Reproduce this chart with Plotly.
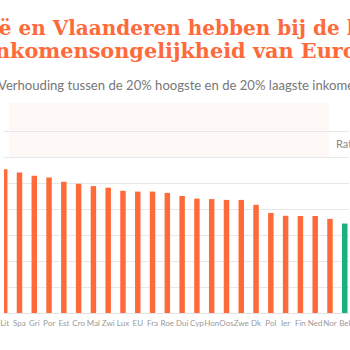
import plotly.graph_objects as go

# ---- data ----
categories = ["Lit", "Spa", "Gri", "Por", "Est", "Cro", "Mal", "Zwi", "Lux", "EU", "Fra", "Roe",
              "Dui", "Cyp", "Hon", "Oos", "Zwe", "Dk", "Pol", "Ier", "Fin", "Ned", "Nor", "Bel"]
values = [5.53, 5.40, 5.28, 5.21, 5.05, 4.97, 4.88, 4.82, 4.70, 4.67, 4.67, 4.62,
          4.50, 4.40, 4.38, 4.35, 4.35, 4.16, 3.85, 3.74, 3.73, 3.73, 3.62, 3.44]
highlight = ["Bel"]

title_line1 = "België en Vlaanderen hebben bij de laagste"
title_line2 = "inkomensongelijkheid van Europa"
subtitle = "Verhouding tussen de 20% hoogste en de 20% laagste inkomens"
axis_note = "Ratio"

# ---- style ----
W, H = 350, 350
TOP, BOT = 105, 313
ORANGE = "#ff6a3a"
GREEN = "#17b07e"

colors = [GREEN if c in highlight else ORANGE for c in categories]


def py(p):
    """pixel y -> paper y (plot area based)"""
    return (BOT - p) / (BOT - TOP)


def px(p):
    return p / W


fig = go.Figure(go.Bar(
    x=categories, y=values, marker_color=colors, width=0.37,
    marker_line_width=0, hoverinfo="skip"))

x0 = -0.7 / 15
fig.update_layout(
    width=W, height=H,
    margin=dict(l=0, r=0, t=TOP, b=H - BOT, pad=0),
    paper_bgcolor="white", plot_bgcolor="white",
    showlegend=False,
    xaxis=dict(range=[x0, x0 + W / 15], showgrid=False, zeroline=False,
               showline=False, ticks="", tickangle=0, ticklabelstandoff=4,
               tickfont=dict(family="Lato", size=8, color="#9a9a9a")),
    yaxis=dict(range=[0, 8], dtick=1, showgrid=True, gridcolor="#e8e8e8",
               gridwidth=1, zeroline=True, zerolinecolor="#e3e3e3",
               zerolinewidth=1, showticklabels=False, ticks=""),
    shapes=[dict(type="rect", xref="paper", yref="paper", layer="below",
                 x0=px(5), x1=px(330), y0=py(157), y1=py(103),
                 fillcolor="#fef9f7", line_width=0)],
    annotations=[
        dict(text=title_line1, xref="paper", yref="paper", x=px(182), y=py(28),
             xanchor="center", yanchor="middle", showarrow=False,
             font=dict(family="DejaVu Serif", size=20, color=ORANGE, weight="bold")),
        dict(text=title_line2, xref="paper", yref="paper", x=px(184.5), y=py(50),
             xanchor="center", yanchor="middle", showarrow=False,
             font=dict(family="DejaVu Serif", size=20.8, color=ORANGE, weight="bold")),
        dict(text=subtitle, xref="paper", yref="paper", x=px(-8), y=py(85),
             xanchor="left", yanchor="middle", showarrow=False,
             font=dict(family="Lato", size=13.1, color="#777777")),
        dict(text=axis_note, xref="paper", yref="paper", x=px(335), y=py(143),
             xanchor="left", yanchor="middle", showarrow=False,
             font=dict(family="Lato", size=11, color="#8a8a8a")),
    ],
)

fig.write_html("out.html")
